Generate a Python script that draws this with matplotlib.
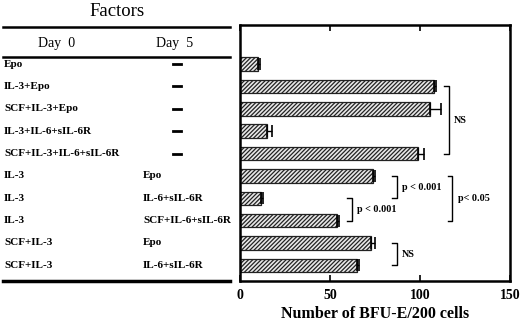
import matplotlib
matplotlib.use("Agg")
import matplotlib.pyplot as plt
import matplotlib.transforms as mtransforms

day0 = ["Epo", "IL-3+Epo", "SCF+IL-3+Epo", "IL-3+IL-6+sIL-6R", "SCF+IL-3+IL-6+sIL-6R",
        "IL-3", "IL-3", "IL-3", "SCF+IL-3", "SCF+IL-3"]
day5 = ["—", "—", "—", "—", "—",
        "Epo", "IL-6+sIL-6R", "SCF+IL-6+sIL-6R", "Epo", "IL-6+sIL-6R"]
values = [10, 108, 105.5, 15, 99, 74, 11.5, 54, 73, 65]
errors = [1, 1, 6, 2.5, 3, 1, 1.5, 1, 2, 1]
xticks = [0, 50, 100, 150]
# (first row, last row, x position, label)
brackets = [(1, 4, 116, "NS"), (5, 6, 87, "p < 0.001"), (6, 7, 62, "p < 0.001"),
            (5, 7, 118, "p< 0.05"), (8, 9, 87, "NS")]

plt.rcParams["font.family"] = ["Liberation Serif", "DejaVu Serif"]
plt.rcParams["hatch.linewidth"] = 0.9

fig = plt.figure(figsize=(5.2, 3.21), dpi=100)
ax = fig.add_axes([240/520, 40/321, 270/520, 256/321])

ypos = list(range(len(values)))
ax.barh(ypos, values, height=0.6, color="#e8e8e8", edgecolor="#222222",
        hatch="////////", linewidth=0.9)
ax.errorbar(values, ypos, xerr=[[0]*len(errors), errors], fmt="none",
            ecolor="black", elinewidth=1.0, capsize=4, capthick=1.2)

ax.set_xlim(0, 150)
ax.set_ylim(9.7, -1.75)
ax.set_yticks([])
ax.set_xticks(xticks)
ax.set_xticklabels([str(t) for t in xticks], fontweight="bold", fontsize=10)
ax.tick_params(axis="x", direction="in", length=4, width=1.2, top=True, pad=6)
for s in ax.spines.values():
    s.set_linewidth(1.8)
ax.set_xlabel("Number of BFU-E/200 cells", fontweight="bold", fontsize=11.5)
ax.xaxis.set_label_coords(0.5, -33/256)
ax.xaxis.label.set_va("center")

for (a, b, x, lab) in brackets:
    ax.plot([x - 2.5, x, x, x - 2.5], [a, a, b, b], color="black", lw=1.0, clip_on=False)
    ax.text(x + 3, (a + b) / 2, lab, fontsize=7.3, fontweight="bold", va="center", ha="left")

# left table
trans = mtransforms.blended_transform_factory(fig.transFigure, ax.transData)
for i in ypos:
    fig.text(4/520, i, day0[i], transform=trans, fontsize=8, fontweight="bold", va="center", ha="left")
    if day5[i] == "—":
        fig.add_artist(plt.Line2D([173/520, 181/520], [i, i], transform=trans, color="black", lw=2.0))
    else:
        fig.text(143/520, i, day5[i], transform=trans, fontsize=8, fontweight="bold", va="center", ha="left")

fig.text(117/520, 1 - 11/321, "Factors", fontsize=13.5, va="center", ha="center")
fig.text(57/520, 1 - 44/321, "Day  0", fontsize=10, va="center", ha="center")
fig.text(175/520, 1 - 44/321, "Day  5", fontsize=10, va="center", ha="center")
for yy, lw in [(27, 1.8), (57, 1.8), (281, 2.5)]:
    fig.add_artist(plt.Line2D([3/520, 230/520], [1 - yy/321, 1 - yy/321],
                              transform=fig.transFigure, color="black", lw=lw))

fig.savefig("out.png", dpi=100)
